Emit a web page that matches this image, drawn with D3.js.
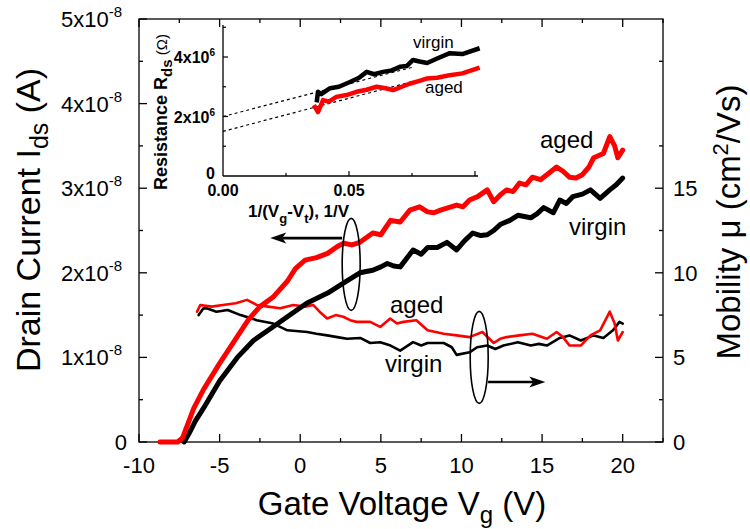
<!DOCTYPE html>
<html><head><meta charset="utf-8">
<script src="https://cdn.jsdelivr.net/npm/d3@7"></script>
<style>body{margin:0;background:#fff} text{font-family:"Liberation Sans",Arial,sans-serif;fill:#000}</style>
</head><body><svg id="c" width="750" height="529"></svg>
<script>
// ---- data ----
const xTicks = [-10, -5, 0, 5, 10, 15, 20];
const leftTicks = [0, 1, 2, 3, 4, 5];          // x1e-8 A
const rightTicks = [0, 5, 10, 15];              // cm2/Vs
const insetXTicks = [0.00, 0.05];
const insetYTicks = [0, 2, 4];                  // x1e6 ohm

const agedIVg = [-8.7,-7.6,-7.3,-7.0,-6.6,-6.0,-5.0,-4.0,-3.2,-2.5,-1.7,-0.8,-0.3,0.3,1.0,1.7,2.3,2.7,3.2,3.7,4.5,5.0,5.6,6.2,6.8,7.4,7.9,8.3,8.7,9.2,9.7,10.1,10.5,11.0,11.6,12.0,12.4,12.8,13.2,13.6,14.0,14.4,14.9,15.3,15.9,16.3,16.7,17.1,17.5,17.9,18.2,18.8,19.2,19.5,19.7,20.0];
const agedI = [0,0,0.05,0.2,0.4,0.62,0.93,1.22,1.45,1.6,1.71,1.9,2.05,2.15,2.18,2.23,2.31,2.35,2.33,2.36,2.47,2.45,2.62,2.6,2.74,2.78,2.72,2.71,2.74,2.77,2.8,2.78,2.86,2.9,2.98,2.84,2.92,2.98,2.96,3.06,3.04,3.13,3.1,3.16,3.25,3.2,3.13,3.12,3.16,3.25,3.36,3.41,3.61,3.5,3.36,3.45];

const virginIVg = [-7.2,-6.9,-6.5,-6.0,-5.0,-3.9,-2.9,-1.7,-0.8,0.4,1.7,2.7,3.7,4.5,5.0,5.4,5.8,6.2,7.0,7.5,7.9,8.5,9.1,9.7,10.2,10.7,11.2,11.6,12.0,12.4,13.0,13.5,14.3,14.7,15.1,15.7,16.1,16.5,16.9,17.5,18.0,18.6,19.2,19.6,20.0];
const virginI = [0,0.1,0.25,0.4,0.72,1.0,1.2,1.36,1.48,1.64,1.76,1.88,2.0,2.03,2.07,2.11,2.08,2.07,2.27,2.22,2.3,2.3,2.36,2.27,2.38,2.47,2.44,2.45,2.5,2.57,2.62,2.68,2.65,2.7,2.77,2.71,2.86,2.82,2.9,2.93,2.98,2.88,2.98,3.04,3.12];

const agedMuVg = [-6.4,-6.2,-5.5,-4.8,-4.0,-3.3,-2.7,-2.0,-1.24,-0.43,0.3,0.8,1.2,1.67,2.2,2.67,3.1,3.5,4.34,4.96,5.58,6.0,6.4,7.2,7.9,8.4,8.9,9.7,10.5,11.3,12.0,12.4,12.8,13.6,14.4,15.3,15.9,16.3,16.7,17.4,18.0,18.6,19.2,19.5,19.7,20.0];
const agedMu = [7.7,8.1,8.0,8.1,8.2,8.4,8.1,8.0,7.9,8.1,8.0,8.1,7.7,7.3,7.5,7.4,7.2,7.1,7.1,6.8,7.3,7.0,7.1,7.2,6.6,6.5,6.4,6.3,6.2,6.5,5.85,6.1,6.2,6.3,6.4,6.1,6.5,6.2,5.7,5.7,6.3,6.6,7.7,7.0,6.0,6.5];

const virginMuVg = [-6.3,-6.0,-5.8,-5.2,-4.5,-3.7,-2.7,-1.67,-0.8,0.43,1.0,1.67,2.3,2.9,3.72,4.34,4.96,5.6,6.2,7.0,7.5,7.9,8.9,9.4,9.7,10.5,10.97,11.6,12.1,12.6,13.5,14.3,14.8,15.3,16.1,16.7,17.4,18.2,18.8,19.4,19.8,20.0];
const virginMu = [7.5,7.9,7.9,7.7,7.8,7.5,7.2,7.0,6.6,6.5,6.4,6.3,6.2,6.1,6.15,5.85,5.9,5.7,5.4,5.9,5.7,5.85,5.85,5.6,5.15,5.3,5.6,5.7,5.5,5.7,5.9,5.7,5.8,5.7,6.15,6.3,6.0,6.3,6.15,6.6,7.1,7.0];

const insetVirginX = [0.0373,0.0377,0.039,0.0425,0.046,0.0504,0.054,0.057,0.060,0.0635,0.067,0.0702,0.073,0.0754,0.078,0.081,0.085,0.090,0.095,0.101];
const insetVirginR = [2.55,2.83,2.75,2.95,3.0,3.16,3.3,3.5,3.42,3.5,3.55,3.67,3.7,3.9,3.85,3.8,3.95,4.13,4.1,4.27];
const insetAgedX = [0.0365,0.0377,0.0397,0.042,0.045,0.049,0.053,0.057,0.061,0.0645,0.0675,0.071,0.074,0.078,0.081,0.085,0.090,0.095,0.101];
const insetAgedR = [2.32,2.15,2.55,2.5,2.66,2.72,2.83,2.9,3.0,2.95,2.89,3.0,3.1,3.2,3.28,3.3,3.39,3.45,3.62];
const fitX = [0, 0.075];
const fitVirginR = [2.0, 3.65];
const fitAgedR = [1.5, 3.17];

// ---- layout ----
const svg = d3.select("#c");
const L = 139, R = 663, T = 19, B = 442;
const x = d3.scaleLinear().domain([-10, 22.5]).range([L, R]);
const yL = d3.scaleLinear().domain([0, 5]).range([B, T]);
const yR = d3.scaleLinear().domain([0, 25]).range([B, T]);
const ix = d3.scaleLinear().domain([0, 0.1012]).range([223, 478]);
const iy = d3.scaleLinear().domain([0, 5]).range([176, 27.25]);

const zip = (a, b) => a.map((v, i) => [v, b[i]]);

// frame
svg.append("rect").attr("x", L).attr("y", T).attr("width", R - L).attr("height", B - T)
  .attr("fill", "none").attr("stroke", "#000").attr("stroke-width", 1.3);

// ticks
const g = svg.append("g").attr("stroke", "#000").attr("stroke-width", 1.3);
d3.range(-10, 22.6, 2.5).forEach(v => {
  const len = (v % 5 === 0) ? 8 : 4;
  g.append("line").attr("x1", x(v)).attr("x2", x(v)).attr("y1", B).attr("y2", B - len);
  g.append("line").attr("x1", x(v)).attr("x2", x(v)).attr("y1", T).attr("y2", T + len);
});
d3.range(0, 5.01, 0.5).forEach(v => {
  const len = (Math.abs(v - Math.round(v)) < 1e-6) ? 8 : 4;
  g.append("line").attr("x1", L).attr("x2", L + len).attr("y1", yL(v)).attr("y2", yL(v));
});
rightTicks.forEach(v => g.append("line").attr("x1", R).attr("x2", R - 8).attr("y1", yR(v)).attr("y2", yR(v)));
[2.5, 7.5, 12.5, 17.5, 22.5].forEach(v => g.append("line").attr("x1", R).attr("x2", R - 4).attr("y1", yR(v)).attr("y2", yR(v)));

// tick labels
xTicks.forEach(v => svg.append("text").attr("x", x(v)).attr("y", 473).attr("text-anchor", "middle")
  .attr("font-size", 22).text(v));
leftTicks.forEach(v => {
  const t = svg.append("text").attr("x", v === 0 ? 127 : 122).attr("y", yL(v) + 8).attr("text-anchor", "end").attr("font-size", 22);
  if (v === 0) t.text("0");
  else { t.append("tspan").text(v + "x10"); t.append("tspan").attr("dy", -10).attr("font-size", 15).text("-8"); }
});
rightTicks.forEach(v => svg.append("text").attr("x", 673).attr("y", yR(v) + 8).attr("font-size", 22).text(v));

// axis titles
const xt = svg.append("text").attr("x", 402).attr("y", 515).attr("text-anchor", "middle").attr("font-size", 33);
xt.append("tspan").text("Gate Voltage V");
xt.append("tspan").attr("dy", 8).attr("font-size", 24).text("g");
xt.append("tspan").attr("dy", -8).text(" (V)");

const ylt = svg.append("text").attr("transform", "translate(40,220) rotate(-90)").attr("text-anchor", "middle").attr("font-size", 34);
ylt.append("tspan").text("Drain Current I");
ylt.append("tspan").attr("dy", 8).attr("font-size", 25).text("ds");
ylt.append("tspan").attr("dy", -8).text(" (A)");

const yrt = svg.append("text").attr("transform", "translate(740,222) rotate(-90)").attr("text-anchor", "middle").attr("font-size", 33);
yrt.append("tspan").text("Mobility \u03bc (cm");
yrt.append("tspan").attr("dy", -12).attr("font-size", 22).text("2");
yrt.append("tspan").attr("dy", 12).text("/Vs)");

// main curves
const lineL = d3.line().x(d => x(d[0])).y(d => yL(d[1]));
const lineR = d3.line().x(d => x(d[0])).y(d => yR(d[1]));
const draw = (path, col, w) => svg.append("path").attr("d", path).attr("fill", "none").attr("stroke", col)
  .attr("stroke-width", w).attr("stroke-linejoin", "round").attr("stroke-linecap", "round");
draw(lineR(zip(virginMuVg, virginMu)), "#000", 2.6);
draw(lineR(zip(agedMuVg, agedMu)), "#ff0000", 2.6);
draw(lineL(zip(virginIVg, virginI)), "#000", 5);
draw(lineL(zip(agedIVg, agedI)), "#ff0000", 5);

// annotations
const lab = (tx, ty, s, fs) => svg.append("text").attr("x", tx).attr("y", ty).attr("font-size", fs).text(s);
lab(540, 148, "aged", 24);
lab(569, 235, "virgin", 24);
lab(390, 313, "aged", 24);
lab(385, 372, "virgin", 24);

svg.append("ellipse").attr("cx", x(3.16)).attr("cy", yL(2.1)).attr("rx", 9).attr("ry", 46)
  .attr("fill", "none").attr("stroke", "#000").attr("stroke-width", 1.6);
svg.append("ellipse").attr("cx", x(11.1)).attr("cy", yR(5.0)).attr("rx", 9).attr("ry", 46)
  .attr("fill", "none").attr("stroke", "#000").attr("stroke-width", 1.6);

function arrow(x1, x2, yy) {
  const dir = Math.sign(x2 - x1);
  svg.append("line").attr("x1", x1).attr("x2", x2 - dir * 12).attr("y1", yy).attr("y2", yy)
    .attr("stroke", "#000").attr("stroke-width", 2.6);
  svg.append("path").attr("d", `M${x2},${yy} L${x2 - dir * 16},${yy - 5.5} L${x2 - dir * 12},${yy} L${x2 - dir * 16},${yy + 5.5} Z`)
    .attr("fill", "#000");
}
arrow(x(2.6), x(-1.86), yL(2.41));
arrow(x(11.65), x(15.2), yR(3.55));

const at = svg.append("text").attr("x", 248).attr("y", 217).attr("font-size", 17).attr("font-weight", "bold");
at.append("tspan").text("1/(V");
at.append("tspan").attr("dy", 6).attr("font-size", 13).text("g");
at.append("tspan").attr("dy", -6).text("-V");
at.append("tspan").attr("dy", 6).attr("font-size", 13).text("t");
at.append("tspan").attr("dy", -6).text("), 1/V");

// ---- inset ----
const ig = svg.append("g");
ig.append("line").attr("x1", 223).attr("x2", 223).attr("y1", 25).attr("y2", 176).attr("stroke", "#000").attr("stroke-width", 1.3);
ig.append("line").attr("x1", 223).attr("x2", 478).attr("y1", 176).attr("y2", 176).attr("stroke", "#000").attr("stroke-width", 1.3);
[0.025, 0.05, 0.075, 0.1].forEach(v => ig.append("line").attr("x1", ix(v)).attr("x2", ix(v)).attr("y1", 176).attr("y2", v === 0.05 || v === 0.1 ? 171 : 173).attr("stroke", "#000").attr("stroke-width", 1.2));
[1, 2, 3, 4, 5].forEach(v => ig.append("line").attr("x1", 223).attr("x2", v % 2 === 0 ? 228 : 226).attr("y1", iy(v)).attr("y2", iy(v)).attr("stroke", "#000").attr("stroke-width", 1.2));
insetXTicks.forEach(v => ig.append("text").attr("x", ix(v)).attr("y", 196).attr("text-anchor", "middle")
  .attr("font-size", 16).attr("font-weight", "bold").text(v.toFixed(2)));
insetYTicks.forEach(v => {
  const t = ig.append("text").attr("x", 215).attr("y", iy(v) + (v === 0 ? 3 : 6)).attr("text-anchor", "end").attr("font-size", 16).attr("font-weight", "bold");
  if (v === 0) t.text("0");
  else { t.append("tspan").text(v + "x10"); t.append("tspan").attr("dy", -7).attr("font-size", 10).text("6"); }
});
const it = ig.append("text").attr("transform", "translate(167,112) rotate(-90)").attr("text-anchor", "middle").attr("font-size", 18).attr("font-weight", "bold");
it.append("tspan").text("Resistance R");
it.append("tspan").attr("dy", 5).attr("font-size", 15).text("ds");
it.append("tspan").attr("dy", -5).attr("font-weight", "normal").attr("font-size", 15).text(" (\u03a9)");

const iline = d3.line().x(d => ix(d[0])).y(d => iy(d[1]));
ig.append("path").attr("d", iline(zip(fitX, fitVirginR))).attr("fill", "none").attr("stroke", "#000").attr("stroke-width", 1.2).attr("stroke-dasharray", "3,3");
ig.append("path").attr("d", iline(zip(fitX, fitAgedR))).attr("fill", "none").attr("stroke", "#000").attr("stroke-width", 1.2).attr("stroke-dasharray", "3,3");
ig.append("path").attr("d", iline(zip(insetVirginX, insetVirginR))).attr("fill", "none").attr("stroke", "#000").attr("stroke-width", 4.5).attr("stroke-linejoin", "round").attr("stroke-linecap", "square");
ig.append("path").attr("d", iline(zip(insetAgedX, insetAgedR))).attr("fill", "none").attr("stroke", "#ff0000").attr("stroke-width", 4.5).attr("stroke-linejoin", "round").attr("stroke-linecap", "square");
lab(413, 48, "virgin", 17);
lab(425, 93, "aged", 17);
</script></body></html>
